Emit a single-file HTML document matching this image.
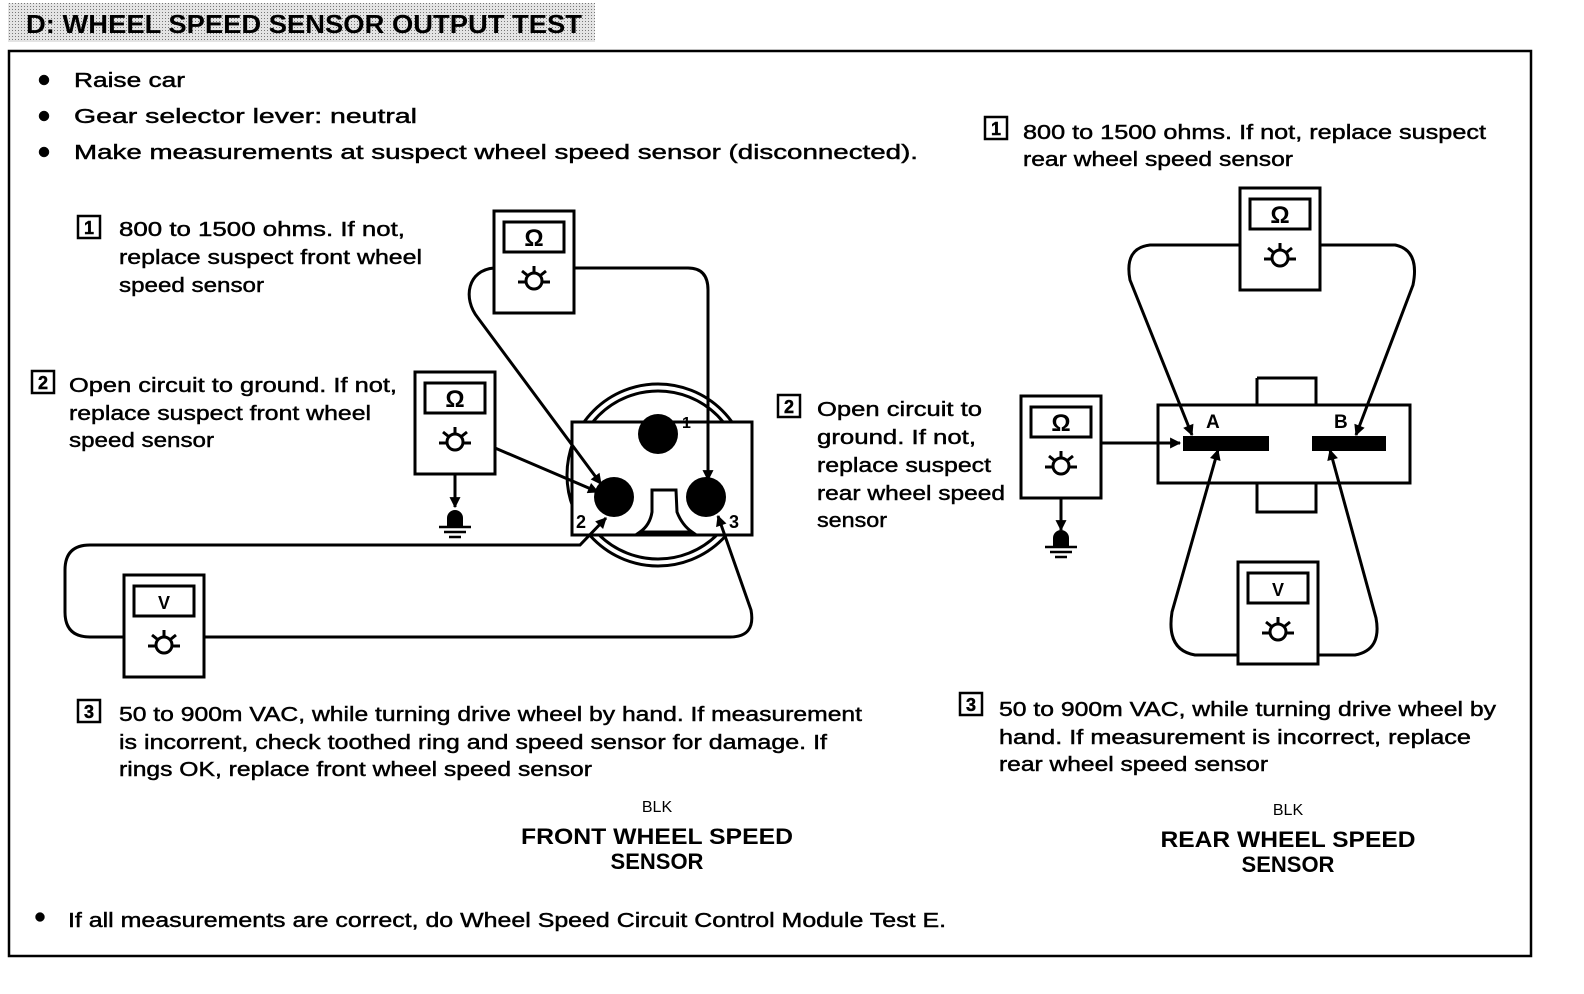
<!DOCTYPE html>
<html><head><meta charset="utf-8"><style>
html,body{margin:0;padding:0;background:#fff;overflow:hidden;}
svg{display:block;}
text{font-family:"Liberation Sans",sans-serif;fill:#000;}
.t{font-size:20px;stroke:#000;stroke-width:0.45;}
.h{font-size:22px;font-weight:bold;}
</style></head><body>
<svg width="1584" height="994" viewBox="0 0 1584 994" xmlns="http://www.w3.org/2000/svg">
<defs>
<pattern id="dots" width="3" height="3" patternUnits="userSpaceOnUse"><rect width="3" height="3" fill="#e4e4e4"/><rect width="1" height="1" fill="#777"/></pattern>
<marker id="ar" viewBox="0 0 10 10" refX="9" refY="5" markerWidth="13" markerHeight="11" orient="auto" markerUnits="userSpaceOnUse"><path d="M0,0 L10,5 L0,10 z" fill="#000"/></marker>
<g id="meterO">
<rect x="0" y="0" width="80" height="102" fill="#fff" stroke="#000" stroke-width="3"/>
<rect x="10" y="11" width="60" height="30" fill="#fff" stroke="#000" stroke-width="3"/>
<text x="40" y="35" font-size="24" font-weight="bold" text-anchor="middle">Ω</text>
<circle cx="40" cy="70" r="8" fill="none" stroke="#000" stroke-width="3"/>
<path d="M40,55 V61 M28,60 L33,64 M52,60 L47,64 M24,71 H31 M49,71 H56" stroke="#000" stroke-width="3"/>
</g>
<g id="meterV">
<rect x="0" y="0" width="80" height="102" fill="#fff" stroke="#000" stroke-width="3"/>
<rect x="10" y="11" width="60" height="30" fill="#fff" stroke="#000" stroke-width="3"/>
<text x="40" y="34" font-size="18" font-weight="bold" text-anchor="middle">V</text>
<circle cx="40" cy="70" r="8" fill="none" stroke="#000" stroke-width="3"/>
<path d="M40,55 V61 M28,60 L33,64 M52,60 L47,64 M24,71 H31 M49,71 H56" stroke="#000" stroke-width="3"/>
</g>
<g id="gnd">
<circle cx="0" cy="0" r="8" fill="#000"/>
<rect x="-8" y="0" width="16" height="8" fill="#000"/>
<path d="M-16,9 H16 M-11,14 H11 M-6,19 H6" stroke="#000" stroke-width="2.5"/>
</g>
<g id="b1"><rect x="0" y="0" width="22" height="22" fill="#fff" stroke="#000" stroke-width="2.5"/><text x="11" y="18" font-size="18" text-anchor="middle" font-weight="bold">1</text></g>
<g id="b2"><rect x="0" y="0" width="22" height="22" fill="#fff" stroke="#000" stroke-width="2.5"/><text x="11" y="18" font-size="18" text-anchor="middle" font-weight="bold">2</text></g>
<g id="b3"><rect x="0" y="0" width="22" height="22" fill="#fff" stroke="#000" stroke-width="2.5"/><text x="11" y="18" font-size="18" text-anchor="middle" font-weight="bold">3</text></g>
</defs>

<rect x="8" y="3" width="587" height="39" fill="url(#dots)"/>
<text x="26" y="33" font-size="26" font-weight="bold" textLength="556" lengthAdjust="spacingAndGlyphs">D: WHEEL SPEED SENSOR OUTPUT TEST</text>
<rect x="9" y="51" width="1522" height="905" fill="none" stroke="#000" stroke-width="2.5"/>

<g class="t">
<circle cx="44" cy="80" r="5" fill="#000"/>
<text x="74" y="87" textLength="111" lengthAdjust="spacingAndGlyphs">Raise car</text>
<circle cx="44" cy="116" r="5" fill="#000"/>
<text x="74" y="123" textLength="343" lengthAdjust="spacingAndGlyphs">Gear selector lever:  neutral</text>
<circle cx="44" cy="152" r="5" fill="#000"/>
<text x="74" y="159" textLength="844" lengthAdjust="spacingAndGlyphs">Make measurements at suspect wheel speed sensor (disconnected).</text>

<use href="#b1" x="78" y="216"/>
<text x="119" y="236" textLength="286" lengthAdjust="spacingAndGlyphs">800 to 1500 ohms.  If not,</text>
<text x="119" y="264" textLength="303" lengthAdjust="spacingAndGlyphs">replace suspect front wheel</text>
<text x="119" y="292" textLength="145" lengthAdjust="spacingAndGlyphs">speed sensor</text>

<use href="#b2" x="32" y="371"/>
<text x="69" y="392" textLength="328" lengthAdjust="spacingAndGlyphs">Open circuit to ground. If not,</text>
<text x="69" y="420" textLength="302" lengthAdjust="spacingAndGlyphs">replace suspect front wheel</text>
<text x="69" y="447" textLength="145" lengthAdjust="spacingAndGlyphs">speed sensor</text>

<use href="#b1" x="985" y="117"/>
<text x="1023" y="139" textLength="463" lengthAdjust="spacingAndGlyphs">800 to 1500 ohms. If not, replace suspect</text>
<text x="1023" y="166" textLength="270" lengthAdjust="spacingAndGlyphs">rear wheel speed sensor</text>

<use href="#b2" x="778" y="395"/>
<text x="817" y="416" textLength="165" lengthAdjust="spacingAndGlyphs">Open circuit to</text>
<text x="817" y="444" textLength="159" lengthAdjust="spacingAndGlyphs">ground. If not,</text>
<text x="817" y="472" textLength="174" lengthAdjust="spacingAndGlyphs">replace suspect</text>
<text x="817" y="500" textLength="188" lengthAdjust="spacingAndGlyphs">rear wheel speed</text>
<text x="817" y="527" textLength="70" lengthAdjust="spacingAndGlyphs">sensor</text>

<use href="#b3" x="78" y="700"/>
<text x="119" y="721" textLength="743" lengthAdjust="spacingAndGlyphs">50 to 900m VAC, while turning drive wheel by hand. If measurement</text>
<text x="119" y="749" textLength="708" lengthAdjust="spacingAndGlyphs">is incorrent, check toothed ring and speed sensor for damage. If</text>
<text x="119" y="776" textLength="473" lengthAdjust="spacingAndGlyphs">rings OK, replace front wheel speed sensor</text>

<use href="#b3" x="960" y="693"/>
<text x="999" y="716" textLength="497" lengthAdjust="spacingAndGlyphs">50 to 900m VAC, while turning drive wheel by</text>
<text x="999" y="744" textLength="472" lengthAdjust="spacingAndGlyphs">hand. If measurement is incorrect, replace</text>
<text x="999" y="771" textLength="269" lengthAdjust="spacingAndGlyphs">rear wheel speed sensor</text>

<circle cx="40" cy="917" r="4.5" fill="#000"/>
<text x="68" y="927" textLength="878" lengthAdjust="spacingAndGlyphs">If all measurements are correct, do Wheel Speed Circuit Control Module Test E.</text>
</g>

<text x="657" y="812" font-size="16" text-anchor="middle">BLK</text>
<text x="657" y="844" class="h" text-anchor="middle" textLength="272" lengthAdjust="spacingAndGlyphs">FRONT WHEEL SPEED</text>
<text x="657" y="869" class="h" text-anchor="middle">SENSOR</text>
<text x="1288" y="815" font-size="16" text-anchor="middle">BLK</text>
<text x="1288" y="847" class="h" text-anchor="middle" textLength="255" lengthAdjust="spacingAndGlyphs">REAR WHEEL SPEED</text>
<text x="1288" y="872" class="h" text-anchor="middle">SENSOR</text>

<g fill="none" stroke="#000" stroke-width="3">
<circle cx="658" cy="475" r="84"/>
<circle cx="658" cy="475" r="91"/>
</g>
<rect x="572" y="422" width="180" height="113" fill="#fff" stroke="#000" stroke-width="3"/>
<circle cx="658" cy="434" r="20" fill="#000"/>
<circle cx="614" cy="497" r="20" fill="#000"/>
<circle cx="706" cy="497" r="20" fill="#000"/>
<path d="M652,490 L676,490 L677,512 Q682,525 692,532 L640,532 Q650,525 652,512 Z" fill="#fff" stroke="#000" stroke-width="3"/>
<text x="682" y="428" font-size="16" font-weight="bold">1</text>
<text x="576" y="528" font-size="18" font-weight="bold">2</text>
<text x="729" y="528" font-size="18" font-weight="bold">3</text>

<rect x="1158" y="405" width="252" height="78" fill="#fff" stroke="#000" stroke-width="3"/>
<path d="M1257,378 H1316 V405 M1316,483 V512 H1257 V483 M1257,405 V378" fill="none" stroke="#000" stroke-width="3"/>
<rect x="1258.5" y="406.5" width="56" height="75" fill="#fff"/>
<rect x="1183" y="436" width="86" height="15" fill="#000"/>
<rect x="1312" y="436" width="74" height="15" fill="#000"/>
<text x="1206" y="428" font-size="19" font-weight="bold">A</text>
<text x="1334" y="428" font-size="19" font-weight="bold">B</text>

<g fill="none" stroke="#000" stroke-width="3">
<path d="M494,268 C468,270 462,298 478,318 L601,484" marker-end="url(#ar)"/>
<path d="M575,268 H688 Q708,268 708,290 L708,480" marker-end="url(#ar)"/>
<path d="M495,448 L598,492" marker-end="url(#ar)"/>
<path d="M455,474 V507" marker-end="url(#ar)"/>
<path d="M124,637 H90 Q65,637 65,612 V570 Q65,545 90,545 H580 L606,518" marker-end="url(#ar)"/>
<path d="M204,637 H730 Q756,637 751,610 L718,516" marker-end="url(#ar)"/>
<path d="M1240,245 H1150 Q1124,248 1130,280 L1192,435" marker-end="url(#ar)"/>
<path d="M1320,245 H1395 Q1420,250 1413,285 L1356,435" marker-end="url(#ar)"/>
<path d="M1101,443 H1180" marker-end="url(#ar)"/>
<path d="M1061,497 V530" marker-end="url(#ar)"/>
<path d="M1238,655 H1195 Q1166,650 1172,612 L1218,450" marker-end="url(#ar)"/>
<path d="M1318,655 H1355 Q1382,650 1376,618 L1330,450" marker-end="url(#ar)"/>
</g>
<use href="#gnd" x="455" y="518"/>
<use href="#gnd" x="1061" y="538"/>

<use href="#meterO" x="494" y="211"/>
<use href="#meterO" x="415" y="372"/>
<use href="#meterV" x="124" y="575"/>
<use href="#meterO" x="1240" y="188"/>
<use href="#meterO" x="1021" y="396"/>
<use href="#meterV" x="1238" y="562"/>
</svg>
</body></html>
